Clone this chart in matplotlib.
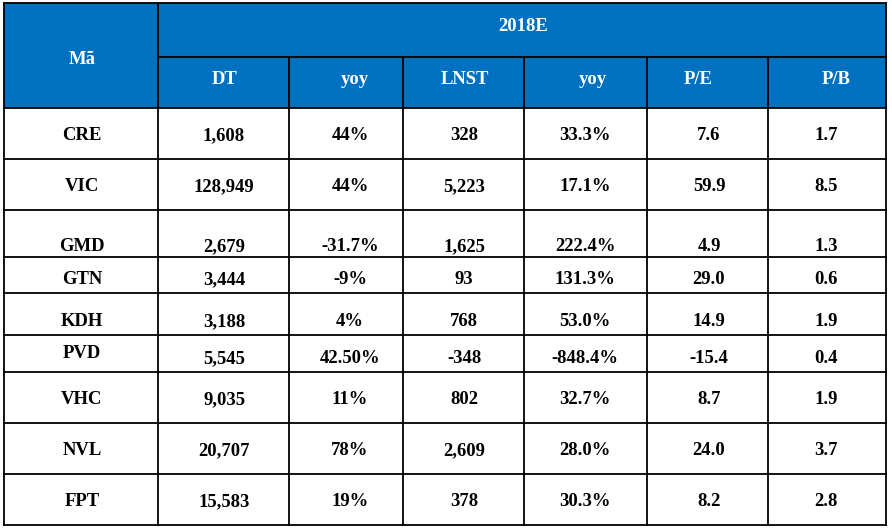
import matplotlib
matplotlib.use("Agg")
import matplotlib.pyplot as plt
from matplotlib.patches import Rectangle

# Dữ liệu bảng
codes = ['CRE', 'VIC', 'GMD', 'GTN', 'KDH', 'PVD', 'VHC', 'NVL', 'FPT']
dt = ['1,608', '128,949', '2,679', '3,444', '3,188', '5,545', '9,035', '20,707', '15,583']
dt_yoy = ['44%', '44%', '-31.7%', '-9%', '4%', '42.50%', '11%', '78%', '19%']
lnst = ['328', '5,223', '1,625', '93', '768', '-348', '802', '2,609', '378']
lnst_yoy = ['33.3%', '17.1%', '222.4%', '131.3%', '53.0%', '-848.4%', '32.7%', '28.0%', '30.3%']
pe = ['7.6', '59.9', '4.9', '29.0', '14.9', '-15.4', '8.7', '24.0', '8.2']
pb = ['1.7', '8.5', '1.3', '0.6', '1.9', '0.4', '1.9', '3.7', '2.8']
sub_headers = ['DT', 'yoy', 'LNST', 'yoy', 'P/E', 'P/B']
group_header = '2018E'
first_header = 'Mã'

# Bố cục (pixel)
col_edges = [4, 158, 289, 403, 524, 647, 768, 886]
row_edges = [108, 159, 210, 257, 293, 335, 372, 423, 474, 525]
top, mid = 3, 57
col_x = [82, 224, 350, 464, 585, 709, 826]
head_x = [225, 355, 465, 593, 698, 836]
row_y = [134, 185, 245, 278, 320, 357, 398, 449, 500]

BLUE = '#0070C0'
FONT = ['Liberation Serif', 'DejaVu Serif']
FS = 13.4
HALF_CAP = 6  # nửa chiều cao chữ hoa, để đặt theo đường cơ sở

fig = plt.figure(figsize=(8.92, 5.31), dpi=100)
ax = fig.add_axes([0, 0, 1, 1])
ax.set_xlim(0, 892)
ax.set_ylim(531, 0)
ax.axis('off')


def cell_text(x, y, s, color):
    ax.text(x, y + HALF_CAP, s, color=color, fontsize=FS, fontweight='bold',
            family=FONT, ha='center', va='baseline')


# Nền tiêu đề
ax.add_patch(Rectangle((col_edges[0], top), col_edges[-1] - col_edges[0],
                       row_edges[0] - top, facecolor=BLUE, edgecolor='none'))

lw = 1.3
# Đường kẻ ngang
ax.plot([col_edges[0], col_edges[-1]], [top, top], color='black', lw=lw)
ax.plot([col_edges[1], col_edges[-1]], [mid, mid], color='black', lw=lw)
for y in row_edges:
    ax.plot([col_edges[0], col_edges[-1]], [y, y], color='black', lw=lw)
# Đường kẻ dọc
for i, x in enumerate(col_edges):
    y0 = mid if 2 <= i <= 6 else top
    ax.plot([x, x], [y0, row_edges[-1]], color='black', lw=lw)

# Tiêu đề
cell_text(col_x[0], 58, first_header, 'white')
cell_text(523, 25, group_header, 'white')
for x, h in zip(head_x, sub_headers):
    cell_text(x, 78, h, 'white')

# Nội dung
columns = [codes, dt, dt_yoy, lnst, lnst_yoy, pe, pb]
for r in range(len(codes)):
    for c, col in enumerate(columns):
        y = row_y[r]
        if codes[r] == 'PVD' and c == 0:
            y -= 5
        cell_text(col_x[c], y, col[r], 'black')

fig.savefig('out.png', dpi=100)
